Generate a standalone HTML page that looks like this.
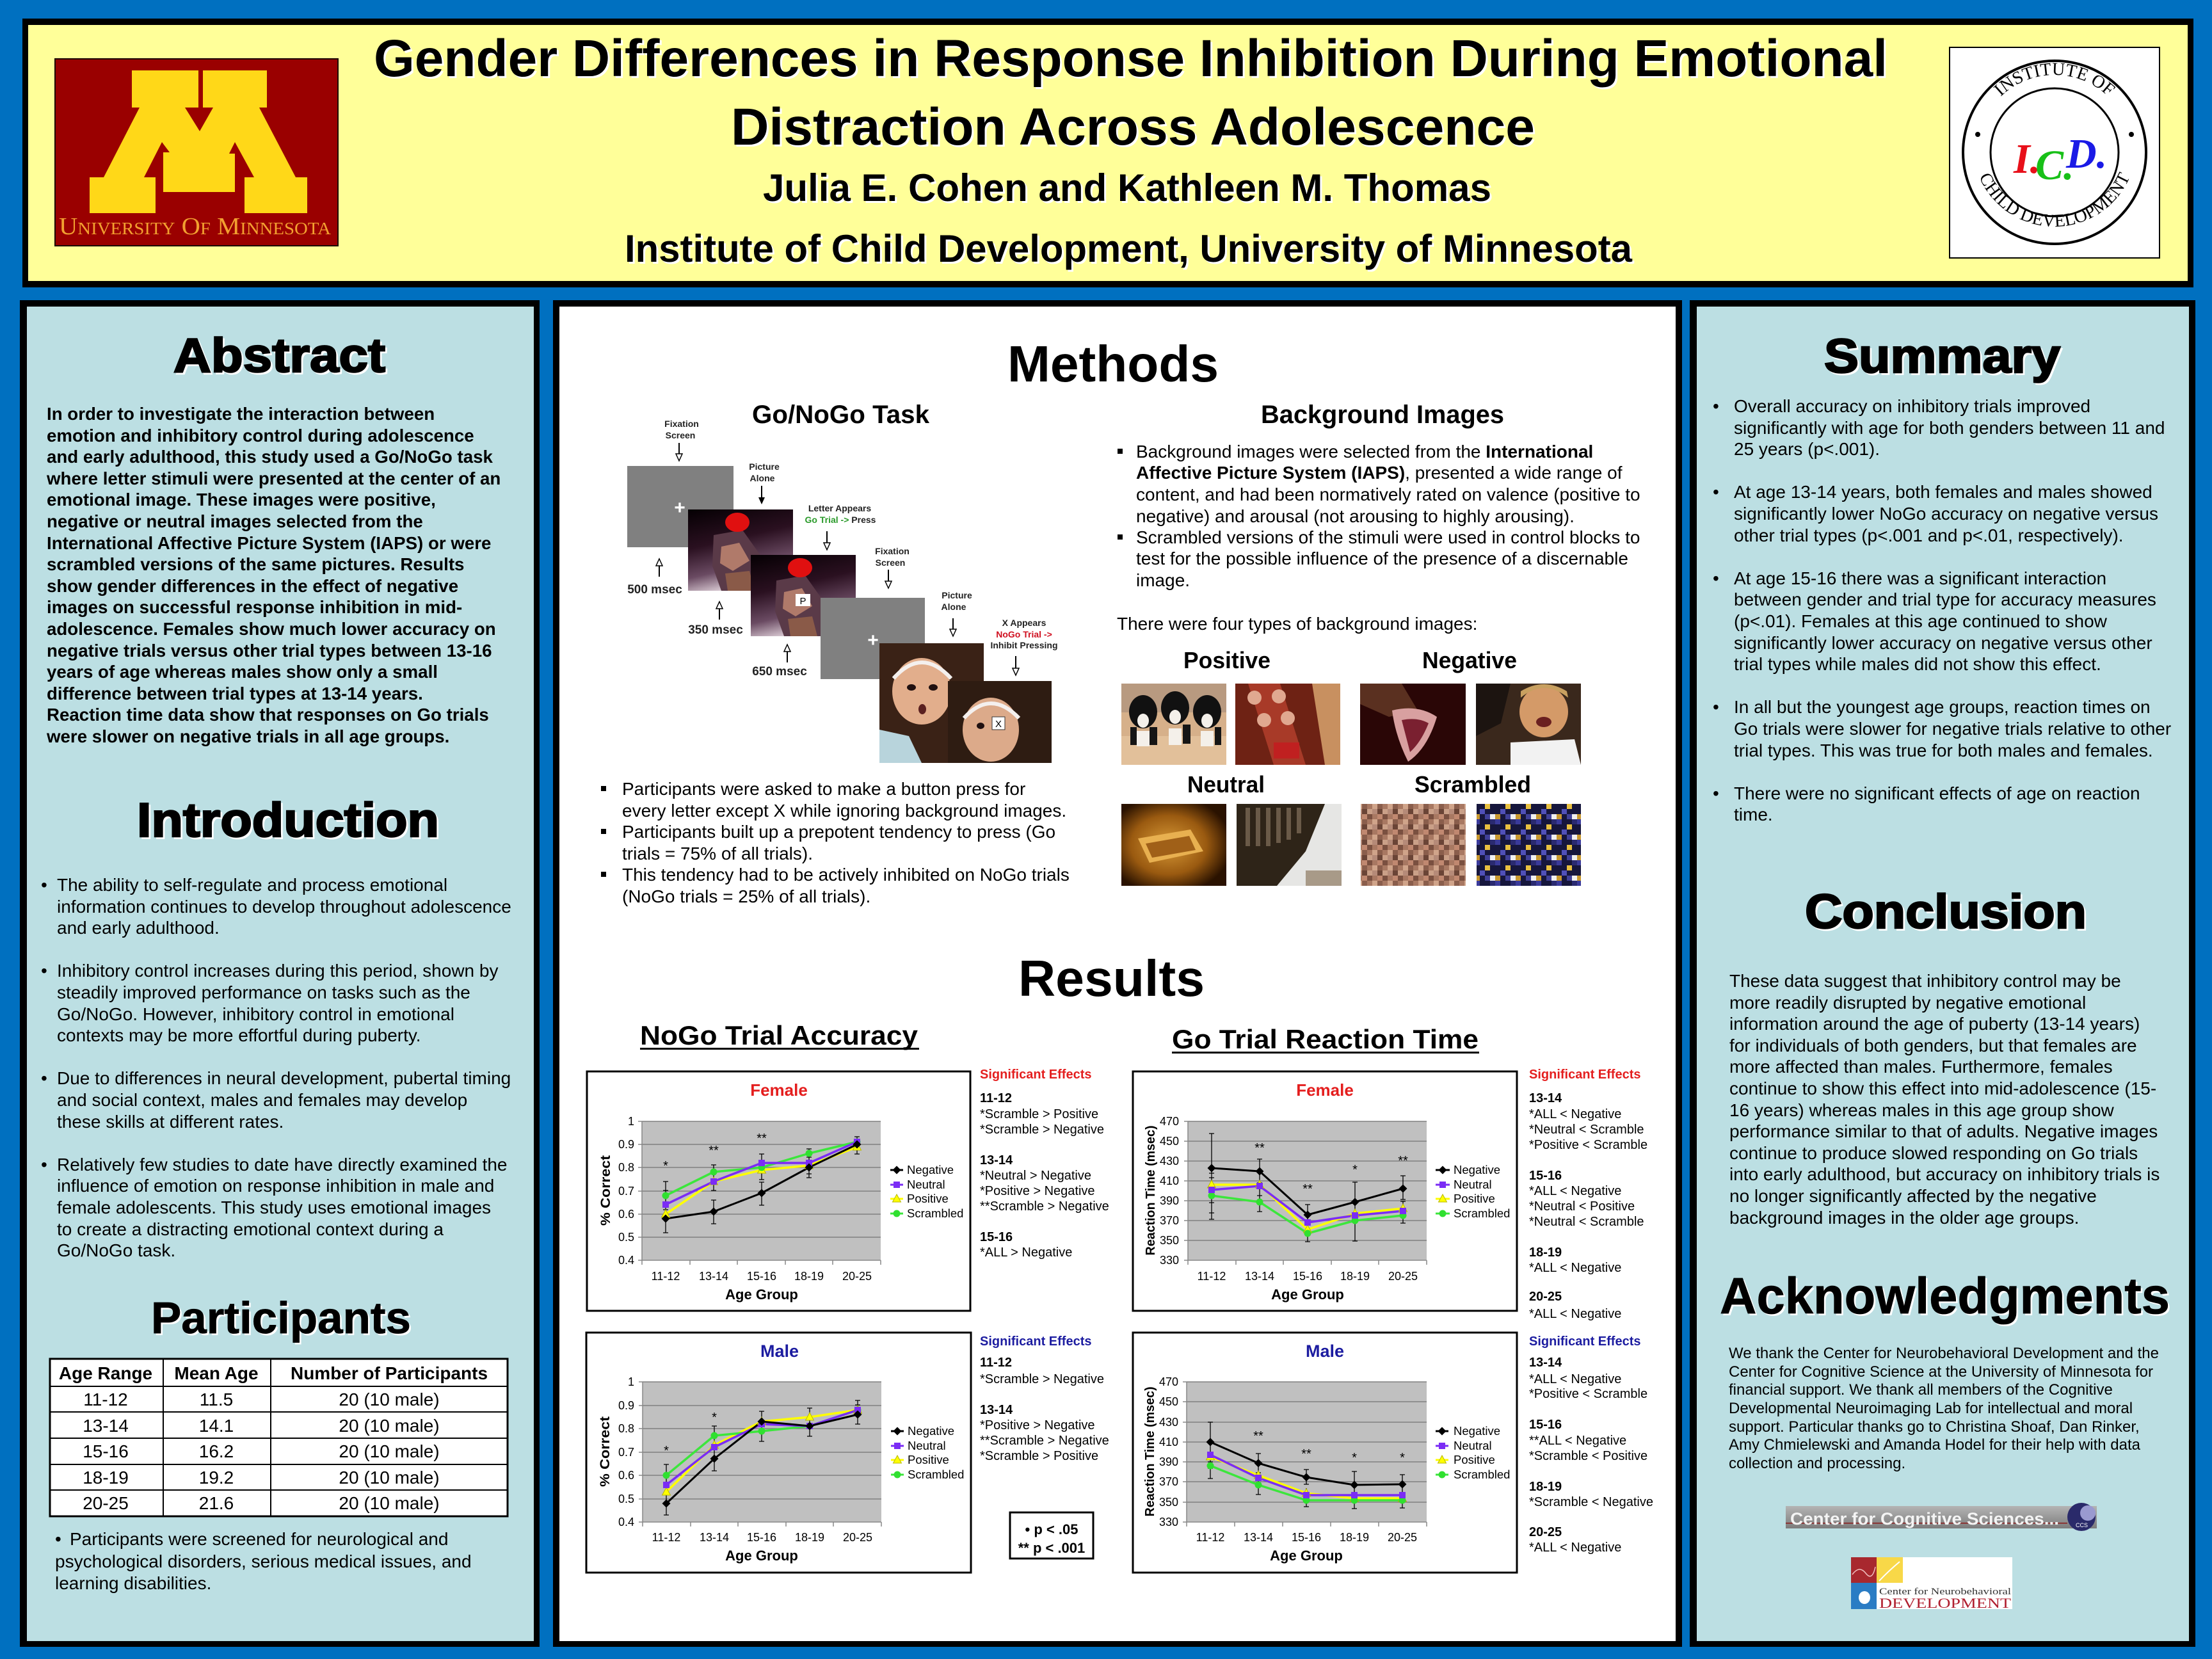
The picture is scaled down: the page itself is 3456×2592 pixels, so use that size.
<!DOCTYPE html>
<html><head><meta charset="utf-8"><title>Gender Differences in Response Inhibition Poster</title>
<style>
html,body{margin:0;padding:0;width:3456px;height:2592px;overflow:hidden;background:#0070c0}
svg{display:block}
text{font-family:"Liberation Sans",Arial,sans-serif}
.serif{font-family:"Liberation Serif","Times New Roman",serif}
</style></head>
<body>
<svg xmlns="http://www.w3.org/2000/svg" width="3456" height="2592" viewBox="0 0 3456 2592">
<defs>
 <linearGradient id="gGei" x1="0" y1="0" x2="0.3" y2="1">
  <stop offset="0" stop-color="#050003"/><stop offset="0.45" stop-color="#2a1020"/><stop offset="0.78" stop-color="#6a4a62"/><stop offset="1" stop-color="#d6c6d0"/>
 </linearGradient>
 <radialGradient id="gBasket" cx="0.45" cy="0.5" r="0.6">
  <stop offset="0" stop-color="#d89a38"/><stop offset="0.6" stop-color="#9a5a10"/><stop offset="1" stop-color="#2a1200"/>
 </radialGradient>
 <linearGradient id="gCcs" x1="0" y1="0" x2="0" y2="1">
  <stop offset="0" stop-color="#b4b4b4"/><stop offset="1" stop-color="#7c7c7c"/>
 </linearGradient>
 <pattern id="mos1" width="24" height="24" patternUnits="userSpaceOnUse">
  <rect width="24" height="24" fill="#a87862"/><rect width="8" height="8" fill="#7a5040"/><rect x="8" y="8" width="8" height="8" fill="#d0a48a"/><rect x="16" y="0" width="8" height="8" fill="#c08870"/><rect x="0" y="16" width="8" height="8" fill="#caa088"/><rect x="16" y="16" width="8" height="8" fill="#6a4436"/><rect x="8" y="16" width="8" height="8" fill="#b58a78"/><rect x="16" y="8" width="8" height="8" fill="#8a5e4c"/>
 </pattern>
 <pattern id="mos2" width="32" height="32" patternUnits="userSpaceOnUse">
  <rect width="32" height="32" fill="#16163c"/><rect x="0" y="0" width="8" height="8" fill="#3a3a9a"/><rect x="16" y="8" width="8" height="8" fill="#e8c040"/><rect x="8" y="16" width="8" height="8" fill="#5050b8"/><rect x="24" y="24" width="8" height="8" fill="#f0f0f0"/><rect x="24" y="0" width="8" height="8" fill="#2a2a70"/><rect x="0" y="24" width="8" height="8" fill="#c89830"/><rect x="16" y="24" width="8" height="8" fill="#404098"/>
 </pattern>
 <path id="dia" d="M0,-6.5L6.5,0L0,6.5L-6.5,0Z" fill="#000"/>
 <rect id="sq" x="-5" y="-5" width="10" height="10" fill="#7b2cf5"/>
 <path id="tri" d="M0,-7L6.5,5L-6.5,5Z" fill="#ffff00" stroke="#b8b800" stroke-width="1"/>
 <circle id="cir" r="5.5" fill="#30e030"/>
 <g id="gei">
  <rect width="164" height="127" fill="url(#gGei)"/>
  <path d="M40,40 L85,32 L112,70 L110,127 L52,127 L38,88Z" fill="#5a3a48"/>
  <path d="M52,58 L80,52 L96,80 L70,96 L50,84Z" fill="#b07a6a"/>
  <path d="M58,100 L96,96 L104,127 L62,127Z" fill="#8a5a48"/>
  <ellipse cx="77" cy="20" rx="19" ry="15" fill="#e01010"/>
 </g>
</defs>

<!-- background -->
<rect width="3456" height="2592" fill="#0070c0"/>

<!-- HEADER -->
<rect x="35" y="29" width="3392" height="420" fill="#000"/>
<rect x="44" y="39" width="3374" height="400" fill="#ffff99"/>

<!-- UMN logo -->
<rect x="85" y="91" width="444" height="294" fill="#1a0000"/>
<rect x="87" y="93" width="440" height="290" fill="#9a0000"/>
<path d="M206,110 L310,110 L310,168 L289,168 L312,205 L333,168 L317,168 L317,110 L417,110 L417,168 L405,168 L462,277 L480,277 L480,333 L382,333 L382,277 L397,277 L367,222 L358,240 L367,240 L367,300 L255,300 L255,238 L265,238 L253,222 L225,277 L243,277 L243,333 L140,333 L140,277 L162,277 L218,168 L206,168Z" fill="#ffd818"/>
<text x="92" y="366" font-size="38" class="serif" font-variant="small-caps" fill="#f2a030" textLength="425" lengthAdjust="spacingAndGlyphs">University Of Minnesota</text>

<!-- Title -->
<g font-weight="bold">
<text x="587" y="122" font-size="82" fill="#fff" textLength="2365" lengthAdjust="spacingAndGlyphs">Gender Differences in Response Inhibition During Emotional</text>
<text x="584" y="119" font-size="82" fill="#000" textLength="2365" lengthAdjust="spacingAndGlyphs">Gender Differences in Response Inhibition During Emotional</text>
<text x="1145" y="229" font-size="82" fill="#fff" textLength="1256" lengthAdjust="spacingAndGlyphs">Distraction Across Adolescence</text>
<text x="1142" y="226" font-size="82" fill="#000" textLength="1256" lengthAdjust="spacingAndGlyphs">Distraction Across Adolescence</text>
<text x="1195" y="317" font-size="60" fill="#fff" textLength="1138" lengthAdjust="spacingAndGlyphs">Julia E. Cohen and Kathleen M. Thomas</text>
<text x="1192" y="314" font-size="60" fill="#000" textLength="1138" lengthAdjust="spacingAndGlyphs">Julia E. Cohen and Kathleen M. Thomas</text>
<text x="979" y="412" font-size="60" fill="#fff" textLength="1574" lengthAdjust="spacingAndGlyphs">Institute of Child Development, University of Minnesota</text>
<text x="976" y="409" font-size="60" fill="#000" textLength="1574" lengthAdjust="spacingAndGlyphs">Institute of Child Development, University of Minnesota</text>
</g>

<!-- ICD logo -->
<rect x="3046" y="74" width="328" height="329" fill="#fff" stroke="#000" stroke-width="2"/>
<circle cx="3210" cy="238" r="143" fill="none" stroke="#000" stroke-width="4"/>
<circle cx="3210" cy="238" r="100" fill="none" stroke="#000" stroke-width="3"/>
<path id="arcTop" d="M3089,238 A121,121 0 0 1 3331,238" fill="none"/>
<path id="arcBot" d="M3082,226 A128,128 0 0 0 3338,226" fill="none"/>
<text class="serif" font-size="28" fill="#000"><textPath href="#arcTop" startOffset="50%" text-anchor="middle">INSTITUTE OF</textPath></text>
<text class="serif" font-size="28" fill="#000"><textPath href="#arcBot" startOffset="50%" text-anchor="middle">CHILD DEVELOPMENT</textPath></text>
<circle cx="3090" cy="210" r="4" fill="#000"/><circle cx="3330" cy="210" r="4" fill="#000"/>
<g font-style="italic" font-weight="bold" font-size="66">
<text x="3146" y="270" fill="#e8101a" class="serif">I.</text>
<text x="3180" y="280" fill="#18c018" class="serif">C.</text>
<text x="3228" y="262" fill="#1a1ae6" class="serif">D.</text>
</g>

<!-- PANELS -->
<rect x="31" y="469" width="812" height="2104" fill="#000"/>
<rect x="42" y="479" width="792" height="2085" fill="#bcdfe3"/>
<rect x="864" y="469" width="1764" height="2104" fill="#000"/>
<rect x="874" y="479" width="1744" height="2085" fill="#fff"/>
<rect x="2640" y="469" width="790" height="2104" fill="#000"/>
<rect x="2651" y="479" width="769" height="2085" fill="#bcdfe3"/>

<!-- LEFT PANEL -->
<g font-weight="bold" font-size="75">
<text x="274" y="584" fill="#fff" stroke="#fff" stroke-width="2" textLength="331" lengthAdjust="spacingAndGlyphs">Abstract</text>
<text x="271" y="581" fill="#000" stroke="#000" stroke-width="2.5" textLength="331" lengthAdjust="spacingAndGlyphs">Abstract</text>
<text x="217" y="1310" fill="#fff" stroke="#fff" stroke-width="2" textLength="472" lengthAdjust="spacingAndGlyphs">Introduction</text>
<text x="214" y="1307" fill="#000" stroke="#000" stroke-width="2.5" textLength="472" lengthAdjust="spacingAndGlyphs">Introduction</text>
</g>
<g font-weight="bold" font-size="70">
<text x="239" y="2086" fill="#fff" textLength="406" lengthAdjust="spacingAndGlyphs">Participants</text>
<text x="236" y="2083" fill="#000" stroke="#000" stroke-width="0.8" textLength="406" lengthAdjust="spacingAndGlyphs">Participants</text>
</g>

<g font-weight="bold" font-size="27.7" fill="#000">
<text x="73" y="656">In order to investigate the interaction between</text>
<text x="73" y="690">emotion and inhibitory control during adolescence</text>
<text x="73" y="723">and early adulthood, this study used a Go/NoGo task</text>
<text x="73" y="757">where letter stimuli were presented at the center of an</text>
<text x="73" y="790">emotional image. These images were positive,</text>
<text x="73" y="824">negative or neutral images selected from the</text>
<text x="73" y="858">International Affective Picture System (IAPS) or were</text>
<text x="73" y="891">scrambled versions of the same pictures. Results</text>
<text x="73" y="925">show gender differences in the effect of negative</text>
<text x="73" y="958">images on successful response inhibition in mid-</text>
<text x="73" y="992">adolescence. Females show much lower accuracy on</text>
<text x="73" y="1026">negative trials versus other trial types between 13-16</text>
<text x="73" y="1059">years of age whereas males show only a small</text>
<text x="73" y="1093">difference between trial types at 13-14 years.</text>
<text x="73" y="1126">Reaction time data show that responses on Go trials</text>
<text x="73" y="1160">were slower on negative trials in all age groups.</text>
</g>

<g font-size="28" fill="#000">
<text x="64" y="1392">•</text>
<text x="89" y="1392">The ability to self-regulate and process emotional</text>
<text x="89" y="1426">information continues to develop throughout adolescence</text>
<text x="89" y="1459">and early adulthood.</text>
<text x="64" y="1526">•</text>
<text x="89" y="1526">Inhibitory control increases during this period, shown by</text>
<text x="89" y="1560">steadily improved performance on tasks such as the</text>
<text x="89" y="1594">Go/NoGo.  However, inhibitory control in emotional</text>
<text x="89" y="1627">contexts may be more effortful during puberty.</text>
<text x="64" y="1694">•</text>
<text x="89" y="1694">Due to differences in neural development, pubertal timing</text>
<text x="89" y="1728">and social context, males and females may develop</text>
<text x="89" y="1762">these skills at different rates.</text>
<text x="64" y="1829">•</text>
<text x="89" y="1829">Relatively few studies to date have directly examined the</text>
<text x="89" y="1862">influence of emotion on response inhibition in male and</text>
<text x="89" y="1896">female adolescents.  This study uses emotional images</text>
<text x="89" y="1930">to create a distracting emotional context during a</text>
<text x="89" y="1963">Go/NoGo task.</text>
</g>

<!-- table -->
<rect x="78" y="2123" width="715" height="246" fill="#fff" stroke="#000" stroke-width="3"/>
<path d="M78,2166H793M78,2206H793M78,2247H793M78,2288H793M78,2328H793M255,2123V2369M423,2123V2369" stroke="#000" stroke-width="2" fill="none"/>
<g font-size="28" text-anchor="middle" fill="#000">
<g font-weight="bold"><text x="165" y="2155">Age Range</text><text x="338" y="2155">Mean Age</text><text x="608" y="2155">Number of Participants</text></g>
<text x="165" y="2196">11-12</text><text x="338" y="2196">11.5</text><text x="608" y="2196">20 (10 male)</text>
<text x="165" y="2237">13-14</text><text x="338" y="2237">14.1</text><text x="608" y="2237">20 (10 male)</text>
<text x="165" y="2277">15-16</text><text x="338" y="2277">16.2</text><text x="608" y="2277">20 (10 male)</text>
<text x="165" y="2318">18-19</text><text x="338" y="2318">19.2</text><text x="608" y="2318">20 (10 male)</text>
<text x="165" y="2358">20-25</text><text x="338" y="2358">21.6</text><text x="608" y="2358">20 (10 male)</text>
</g>
<g font-size="28" fill="#000">
<text x="86" y="2414">•</text>
<text x="109" y="2414">Participants were screened for neurological and</text>
<text x="86" y="2449">psychological disorders, serious medical issues, and</text>
<text x="86" y="2483">learning disabilities.</text>
</g>

<!-- MIDDLE PANEL -->
<g font-weight="bold" fill="#000">
<text x="1574" y="596" font-size="80" textLength="330" lengthAdjust="spacingAndGlyphs">Methods</text>
<text x="1591" y="1556" font-size="80" textLength="291" lengthAdjust="spacingAndGlyphs">Results</text>
<text x="1175" y="661" font-size="40" textLength="277" lengthAdjust="spacingAndGlyphs">Go/NoGo Task</text>
<text x="1970" y="661" font-size="40" textLength="380" lengthAdjust="spacingAndGlyphs">Background Images</text>
<text x="1849" y="1044" font-size="36" textLength="136" lengthAdjust="spacingAndGlyphs">Positive</text>
<text x="2222" y="1044" font-size="36" textLength="148" lengthAdjust="spacingAndGlyphs">Negative</text>
<text x="1855" y="1238" font-size="36" textLength="121" lengthAdjust="spacingAndGlyphs">Neutral</text>
<text x="2210" y="1238" font-size="36" textLength="182" lengthAdjust="spacingAndGlyphs">Scrambled</text>
</g>

<!-- Go/NoGo diagram -->
<rect x="980" y="728" width="166" height="127" fill="#808080"/>
<text x="1062" y="803" font-size="30" fill="#fff" text-anchor="middle" font-weight="bold">+</text>
<use href="#gei" x="1075" y="796"/>
<use href="#gei" x="1173" y="867"/>
<rect x="1243" y="928" width="23" height="19" fill="#fff"/>
<text x="1254.5" y="944" font-size="15" text-anchor="middle" fill="#000">P</text>
<rect x="1282" y="934" width="163" height="127" fill="#808080"/>
<text x="1364" y="1010" font-size="30" fill="#fff" text-anchor="middle" font-weight="bold">+</text>
<!-- baby 1 -->
<rect x="1374" y="1005" width="163" height="187" fill="#3a2216"/>
<ellipse cx="1440" cy="1080" rx="46" ry="52" fill="#e2ae8c"/>
<path d="M1396,1060 Q1440,1010 1486,1060" stroke="#f4f0ee" stroke-width="6" fill="none"/>
<ellipse cx="1424" cy="1074" rx="7" ry="5" fill="#201010"/><ellipse cx="1458" cy="1074" rx="7" ry="5" fill="#201010"/>
<ellipse cx="1441" cy="1108" rx="6" ry="8" fill="#5a2020"/>
<path d="M1374,1140 L1420,1150 L1440,1192 L1374,1192Z" fill="#b8d4dc"/>
<!-- baby 2 -->
<rect x="1481" y="1064" width="162" height="128" fill="#2e1c12"/>
<ellipse cx="1548" cy="1140" rx="44" ry="50" fill="#dcaa8a"/>
<path d="M1506,1122 Q1548,1076 1592,1122" stroke="#f4f0ee" stroke-width="6" fill="none"/>
<ellipse cx="1532" cy="1134" rx="6" ry="5" fill="#201010"/><ellipse cx="1564" cy="1134" rx="6" ry="5" fill="#201010"/>
<rect x="1550" y="1120" width="20" height="20" fill="#fff" stroke="#333" stroke-width="1"/>
<text x="1560" y="1136" font-size="15" text-anchor="middle" fill="#000">X</text>

<g stroke="#000" stroke-width="2" fill="none">
 <path d="M1061,692V710M1292,830V849M1388,890V909M1489,966V984M1587,1025V1045M1190,759V778"/>
 <path d="M1030,883V901M1124,950V968M1230,1017V1035"/>
</g>
<g stroke="#000" stroke-width="1.5" fill="#fff">
 <path d="M1056,709L1066,709L1061,720Z"/><path d="M1287,848L1297,848L1292,859Z"/><path d="M1383,908L1393,908L1388,919Z"/><path d="M1484,983L1494,983L1489,994Z"/><path d="M1582,1044L1592,1044L1587,1055Z"/>
 <path d="M1025,884L1035,884L1030,873Z"/><path d="M1119,951L1129,951L1124,940Z"/><path d="M1225,1018L1235,1018L1230,1007Z"/>
</g>
<path d="M1185,777L1195,777L1190,788Z" fill="#000"/>
<g font-size="14" font-weight="bold" fill="#222" text-anchor="middle">
<text x="1065" y="667">Fixation</text><text x="1063" y="685">Screen</text>
<text x="1194" y="734">Picture</text><text x="1191" y="752">Alone</text>
<text x="1312" y="799">Letter Appears</text>
<text x="1313" y="817"><tspan fill="#2a9a2a">Go Trial -&gt;</tspan> Press</text>
<text x="1394" y="866">Fixation</text><text x="1391" y="884">Screen</text>
<text x="1495" y="935">Picture</text><text x="1490" y="953">Alone</text>
<text x="1600" y="978">X Appears</text>
<text x="1600" y="996" fill="#d01020">NoGo Trial -&gt;</text>
<text x="1600" y="1013">Inhibit Pressing</text>
</g>
<g font-size="19" font-weight="bold" fill="#222" text-anchor="middle">
<text x="1023" y="927">500 msec</text><text x="1118" y="990">350 msec</text><text x="1218" y="1055">650 msec</text>
</g>

<!-- methods bullets -->
<g fill="#000">
<rect x="939" y="1228" width="8" height="8"/><rect x="939" y="1295" width="8" height="8"/><rect x="939" y="1362" width="8" height="8"/>
</g>
<g font-size="28" fill="#000">
<text x="972" y="1242">Participants were asked to make a button press for</text>
<text x="972" y="1276">every letter except X while ignoring background images.</text>
<text x="972" y="1309">Participants built up a prepotent tendency to press (Go</text>
<text x="972" y="1343">trials = 75% of all trials).</text>
<text x="972" y="1376">This tendency had to be actively inhibited on NoGo trials</text>
<text x="972" y="1410">(NoGo trials = 25% of all trials).</text>
</g>

<!-- background images text -->
<g fill="#000"><rect x="1746" y="701" width="8" height="8"/><rect x="1746" y="835" width="8" height="8"/></g>
<g font-size="28" fill="#000">
<text x="1775" y="715">Background images were selected from the <tspan font-weight="bold">International</tspan></text>
<text x="1775" y="748"><tspan font-weight="bold">Affective Picture System (IAPS)</tspan>, presented a wide range of</text>
<text x="1775" y="782">content, and had been normatively rated on valence (positive to</text>
<text x="1775" y="816">negative) and arousal (not arousing to highly arousing).</text>
<text x="1775" y="849">Scrambled versions of the stimuli were used in control blocks to</text>
<text x="1775" y="882">test for the possible influence of the presence of a discernable</text>
<text x="1775" y="916">image.</text>
<text x="1745" y="984">There were four types of background images:</text>
</g>

<!-- background photos -->
<rect x="1752" y="1068" width="164" height="127" fill="#d6b08a"/>
<rect x="1752" y="1068" width="164" height="45" fill="#b89a80"/>
<rect x="1752" y="1150" width="164" height="45" fill="#e2c09a"/>
<g fill="#111"><ellipse cx="1786" cy="1112" rx="22" ry="26"/><ellipse cx="1836" cy="1106" rx="22" ry="26"/><ellipse cx="1886" cy="1112" rx="22" ry="26"/></g>
<g fill="#f4f0ea"><ellipse cx="1786" cy="1126" rx="9" ry="11"/><ellipse cx="1836" cy="1120" rx="9" ry="11"/><ellipse cx="1886" cy="1126" rx="9" ry="11"/>
<rect x="1776" y="1142" width="20" height="24"/><rect x="1826" y="1138" width="20" height="26"/><rect x="1876" y="1142" width="20" height="24"/></g>
<g fill="#151515"><rect x="1766" y="1136" width="10" height="28"/><rect x="1796" y="1136" width="12" height="28"/><rect x="1848" y="1132" width="12" height="30"/><rect x="1898" y="1136" width="10" height="28"/></g>
<rect x="1930" y="1068" width="164" height="127" fill="#6e2214"/>
<path d="M2050,1068 L2094,1068 L2094,1195 L2070,1195Z" fill="#c89060"/>
<path d="M1950,1068 L2000,1068 L2040,1195 L1990,1195Z" fill="#a83a28"/>
<g fill="#e0a890"><circle cx="1960" cy="1090" r="11"/><circle cx="1998" cy="1088" r="11"/><circle cx="1975" cy="1125" r="11"/><circle cx="2012" cy="1122" r="11"/></g>
<rect x="1990" y="1160" width="40" height="25" fill="#c02020"/>
<rect x="2125" y="1068" width="165" height="127" fill="#2a0606"/>
<path d="M2125,1068 L2190,1068 L2215,1110 L2170,1120 L2125,1100Z" fill="#5a3020"/>
<path d="M2175,1110 Q2215,1100 2245,1120 Q2230,1170 2200,1190 Q2180,1150 2175,1110Z" fill="#d8a0a0"/>
<path d="M2190,1125 Q2215,1120 2232,1130 Q2220,1160 2203,1175Z" fill="#7a2030"/>
<rect x="2306" y="1068" width="164" height="127" fill="#3a281c"/>
<path d="M2306,1068 L2360,1068 L2345,1130 L2306,1150Z" fill="#1c1410"/>
<ellipse cx="2412" cy="1112" rx="38" ry="40" fill="#d49a68"/>
<path d="M2376,1090 Q2412,1060 2450,1090 L2448,1080 Q2412,1058 2376,1080Z" fill="#c8a060"/>
<path d="M2360,1160 L2460,1155 L2470,1195 L2360,1195Z" fill="#f2f2f2"/>
<ellipse cx="2412" cy="1128" rx="12" ry="8" fill="#6a2020"/>
<rect x="1752" y="1256" width="164" height="128" fill="url(#gBasket)"/>
<path d="M1778,1310 L1860,1296 L1880,1330 L1796,1348Z" fill="#e8b050"/>
<path d="M1790,1318 L1858,1306 L1868,1328 L1800,1340Z" fill="#a06018"/>
<rect x="1932" y="1256" width="164" height="128" fill="#e6e6e4"/>
<path d="M1932,1256 L2070,1256 L2040,1330 L1995,1384 L1932,1384Z" fill="#2e2418"/>
<g fill="#6a5a48"><rect x="1946" y="1262" width="7" height="60"/><rect x="1962" y="1262" width="7" height="60"/><rect x="1978" y="1262" width="7" height="60"/><rect x="1994" y="1262" width="7" height="55"/><rect x="2010" y="1262" width="7" height="50"/><rect x="2026" y="1262" width="7" height="40"/></g>
<rect x="2040" y="1360" width="56" height="24" fill="#a89a88"/>
<rect x="2126" y="1256" width="164" height="128" fill="url(#mos1)"/>
<rect x="2307" y="1256" width="163" height="128" fill="url(#mos2)"/>

<!-- RESULTS headings -->
<g font-weight="bold" fill="#000">
<text x="1000" y="1632" font-size="42" textLength="434" lengthAdjust="spacingAndGlyphs">NoGo Trial Accuracy</text>
<rect x="1000" y="1637" width="436" height="3"/>
<text x="1831" y="1638" font-size="42" textLength="479" lengthAdjust="spacingAndGlyphs">Go Trial Reaction Time</text>
<rect x="1831" y="1643" width="480" height="3"/>
</g>

<!-- ========== FEMALE NOGO ========== -->
<rect x="917" y="1674" width="599" height="374" fill="#fff" stroke="#000" stroke-width="3"/>
<text x="1217" y="1712" font-size="26" font-weight="bold" fill="#e41e1e" text-anchor="middle">Female</text>
<rect x="1003" y="1752" width="373" height="217" fill="#c0c0c0"/>
<path d="M1003,1752H1376M1003,1788H1376M1003,1824H1376M1003,1861H1376M1003,1897H1376M1003,1933H1376" stroke="#808080" stroke-width="1.5" fill="none"/>
<path d="M1003,1752V1969H1376M997,1752H1003M997,1788H1003M997,1824H1003M997,1861H1003M997,1897H1003M997,1933H1003M997,1969H1003M1003,1969v7M1078,1969v7M1152,1969v7M1227,1969v7M1301,1969v7M1376,1969v7" stroke="#888" stroke-width="1.5" fill="none"/>
<g font-size="18" text-anchor="end" fill="#000">
<text x="991" y="1758">1</text><text x="991" y="1794">0.9</text><text x="991" y="1830">0.8</text><text x="991" y="1867">0.7</text><text x="991" y="1903">0.6</text><text x="991" y="1939">0.5</text><text x="991" y="1975">0.4</text>
</g>
<g font-size="18" text-anchor="middle" fill="#000">
<text x="1040" y="2000">11-12</text><text x="1115" y="2000">13-14</text><text x="1190" y="2000">15-16</text><text x="1264" y="2000">18-19</text><text x="1339" y="2000">20-25</text>
</g>
<text x="1190" y="2030" font-size="22" font-weight="bold" text-anchor="middle">Age Group</text>
<text transform="translate(953,1860) rotate(-90)" font-size="21" font-weight="bold" text-anchor="middle" textLength="110" lengthAdjust="spacingAndGlyphs">% Correct</text>
<path d="M1040,1882V1926M1036,1882H1044M1036,1926H1044M1040,1860V1904M1036,1860H1044M1036,1904H1044M1040,1870V1924M1040,1846V1890M1036,1846H1044M1036,1890H1044
M1115,1875V1912M1111,1875H1119M1111,1912H1119M1115,1832V1860M1111,1832H1119M1111,1860H1119M1115,1820V1842M1111,1820H1119M1111,1842H1119
M1190,1847V1883M1186,1847H1194M1186,1883H1194M1190,1803V1843M1186,1803H1194M1186,1843H1194M1190,1810V1838
M1264,1808V1840M1260,1808H1268M1260,1840H1268M1264,1795V1834M1260,1795H1268M1260,1834H1268
M1339,1776V1803M1335,1776H1343M1335,1803H1343" stroke="#000" stroke-width="1.3" fill="none"/>
<g fill="none" stroke-width="3.5" stroke-linejoin="round">
<polyline points="1040,1897 1115,1846 1190,1828 1264,1821 1339,1792" stroke="#ffff00"/>
<polyline points="1040,1868 1115,1831 1190,1824 1264,1802 1339,1784" stroke="#3ce63c"/>
<polyline points="1040,1882 1115,1846 1190,1817 1264,1817 1339,1784" stroke="#7b2cf5"/>
<polyline points="1040,1904 1115,1893 1190,1864 1264,1824 1339,1788" stroke="#000" stroke-width="3"/>
</g>
<use href="#tri" x="1040" y="1897"/><use href="#tri" x="1115" y="1846"/><use href="#tri" x="1190" y="1828"/><use href="#tri" x="1264" y="1821"/><use href="#tri" x="1339" y="1792"/>
<use href="#cir" x="1040" y="1868"/><use href="#cir" x="1115" y="1831"/><use href="#cir" x="1190" y="1824"/><use href="#cir" x="1264" y="1802"/><use href="#cir" x="1339" y="1784"/>
<use href="#sq" x="1040" y="1882"/><use href="#sq" x="1115" y="1846"/><use href="#sq" x="1190" y="1817"/><use href="#sq" x="1264" y="1817"/><use href="#sq" x="1339" y="1784"/>
<use href="#dia" x="1040" y="1904"/><use href="#dia" x="1115" y="1893"/><use href="#dia" x="1190" y="1864"/><use href="#dia" x="1264" y="1824"/><use href="#dia" x="1339" y="1788"/>
<g font-size="20" text-anchor="middle"><text x="1040" y="1828">*</text><text x="1115" y="1804">**</text><text x="1190" y="1785">**</text></g>
<g stroke-width="3"><path d="M1391,1828H1411" stroke="#000"/><path d="M1391,1851H1411" stroke="#7b2cf5"/><path d="M1391,1873H1411" stroke="#ffff00"/><path d="M1391,1896H1411" stroke="#3ce63c"/></g>
<use href="#dia" x="1401" y="1828"/><use href="#sq" x="1401" y="1851"/><use href="#tri" x="1401" y="1873"/><use href="#cir" x="1401" y="1896"/>
<g font-size="18.5"><text x="1417" y="1834">Negative</text><text x="1417" y="1857">Neutral</text><text x="1417" y="1879">Positive</text><text x="1417" y="1902">Scrambled</text></g>

<g font-size="20" fill="#000">
<text x="1531" y="1685" font-weight="bold" fill="#e41e1e">Significant Effects</text>
<text x="1531" y="1722" font-weight="bold">11-12</text>
<text x="1531" y="1747">*Scramble &gt; Positive</text>
<text x="1531" y="1771">*Scramble &gt; Negative</text>
<text x="1531" y="1819" font-weight="bold">13-14</text>
<text x="1531" y="1843">*Neutral &gt; Negative</text>
<text x="1531" y="1867">*Positive &gt; Negative</text>
<text x="1531" y="1891">**Scramble &gt; Negative</text>
<text x="1531" y="1939" font-weight="bold">15-16</text>
<text x="1531" y="1963">*ALL &gt; Negative</text>
</g>

<!-- ========== FEMALE RT ========== -->
<rect x="1770" y="1674" width="600" height="374" fill="#fff" stroke="#000" stroke-width="3"/>
<text x="2070" y="1712" font-size="26" font-weight="bold" fill="#e41e1e" text-anchor="middle">Female</text>
<rect x="1856" y="1752" width="373" height="217" fill="#c0c0c0"/>
<path d="M1856,1752H2229M1856,1783H2229M1856,1814H2229M1856,1845H2229M1856,1876H2229M1856,1907H2229M1856,1938H2229" stroke="#808080" stroke-width="1.5" fill="none"/>
<path d="M1856,1752V1969H2229M1850,1752H1856M1850,1783H1856M1850,1814H1856M1850,1845H1856M1850,1876H1856M1850,1907H1856M1850,1938H1856M1850,1969H1856M1856,1969v7M1931,1969v7M2005,1969v7M2080,1969v7M2154,1969v7M2229,1969v7" stroke="#888" stroke-width="1.5" fill="none"/>
<g font-size="18" text-anchor="end">
<text x="1842" y="1758">470</text><text x="1842" y="1789">450</text><text x="1842" y="1820">430</text><text x="1842" y="1851">410</text><text x="1842" y="1882">390</text><text x="1842" y="1913">370</text><text x="1842" y="1944">350</text><text x="1842" y="1975">330</text>
</g>
<g font-size="18" text-anchor="middle">
<text x="1893" y="2000">11-12</text><text x="1968" y="2000">13-14</text><text x="2043" y="2000">15-16</text><text x="2117" y="2000">18-19</text><text x="2192" y="2000">20-25</text>
</g>
<text x="2043" y="2030" font-size="22" font-weight="bold" text-anchor="middle">Age Group</text>
<text transform="translate(1804,1860) rotate(-90)" font-size="20" font-weight="bold" text-anchor="middle" textLength="203" lengthAdjust="spacingAndGlyphs">Reaction Time (msec)</text>
<path d="M1893,1771V1879M1889,1771H1897M1889,1879H1897M1893,1833V1895M1889,1833H1897M1889,1895H1897M1893,1840V1905M1889,1840H1897M1889,1905H1897
M1968,1811V1848M1964,1811H1972M1964,1848H1972M1968,1838V1868M1964,1868H1972M1968,1863V1893M1964,1893H1972
M2043,1882V1913M2039,1882H2047M2039,1913H2047M2043,1898V1940M2039,1940H2047
M2117,1847V1907M2113,1847H2121M2113,1907H2121M2117,1877V1939M2113,1939H2121M2113,1880H2121
M2192,1837V1874M2188,1837H2196M2188,1874H2196M2192,1877V1911M2188,1911H2196M2188,1877H2196" stroke="#000" stroke-width="1.3" fill="none"/>
<g fill="none" stroke-width="3.5" stroke-linejoin="round">
<polyline points="1893,1851 1968,1851 2043,1921 2117,1896 2192,1888" stroke="#ffff00"/>
<polyline points="1893,1868 1968,1878 2043,1927 2117,1907 2192,1899" stroke="#3ce63c"/>
<polyline points="1893,1859 1968,1853 2043,1910 2117,1899 2192,1892" stroke="#7b2cf5"/>
<polyline points="1893,1825 1968,1830 2043,1898 2117,1878 2192,1857" stroke="#000" stroke-width="3"/>
</g>
<use href="#tri" x="1893" y="1851"/><use href="#tri" x="1968" y="1851"/><use href="#tri" x="2043" y="1921"/><use href="#tri" x="2117" y="1896"/><use href="#tri" x="2192" y="1888"/>
<use href="#cir" x="1893" y="1868"/><use href="#cir" x="1968" y="1878"/><use href="#cir" x="2043" y="1927"/><use href="#cir" x="2117" y="1907"/><use href="#cir" x="2192" y="1899"/>
<use href="#sq" x="1893" y="1859"/><use href="#sq" x="1968" y="1853"/><use href="#sq" x="2043" y="1910"/><use href="#sq" x="2117" y="1899"/><use href="#sq" x="2192" y="1892"/>
<use href="#dia" x="1893" y="1825"/><use href="#dia" x="1968" y="1830"/><use href="#dia" x="2043" y="1898"/><use href="#dia" x="2117" y="1878"/><use href="#dia" x="2192" y="1857"/>
<g font-size="20" text-anchor="middle"><text x="1968" y="1800">**</text><text x="2043" y="1864">**</text><text x="2117" y="1834">*</text><text x="2192" y="1820">**</text></g>
<g stroke-width="3"><path d="M2243,1828H2265" stroke="#000"/><path d="M2243,1851H2265" stroke="#7b2cf5"/><path d="M2243,1873H2265" stroke="#ffff00"/><path d="M2243,1896H2265" stroke="#3ce63c"/></g>
<use href="#dia" x="2254" y="1828"/><use href="#sq" x="2254" y="1851"/><use href="#tri" x="2254" y="1873"/><use href="#cir" x="2254" y="1896"/>
<g font-size="18.5"><text x="2271" y="1834">Negative</text><text x="2271" y="1857">Neutral</text><text x="2271" y="1879">Positive</text><text x="2271" y="1902">Scrambled</text></g>

<g font-size="20" fill="#000">
<text x="2389" y="1685" font-weight="bold" fill="#e41e1e">Significant Effects</text>
<text x="2389" y="1722" font-weight="bold">13-14</text>
<text x="2389" y="1747">*ALL &lt; Negative</text>
<text x="2389" y="1771">*Neutral &lt; Scramble</text>
<text x="2389" y="1795">*Positive &lt; Scramble</text>
<text x="2389" y="1843" font-weight="bold">15-16</text>
<text x="2389" y="1867">*ALL &lt; Negative</text>
<text x="2389" y="1891">*Neutral &lt; Positive</text>
<text x="2389" y="1915">*Neutral &lt; Scramble</text>
<text x="2389" y="1963" font-weight="bold">18-19</text>
<text x="2389" y="1987">*ALL &lt; Negative</text>
<text x="2389" y="2032" font-weight="bold">20-25</text>
<text x="2389" y="2059">*ALL &lt; Negative</text>
</g>

<!-- ========== MALE NOGO ========== -->
<rect x="916" y="2082" width="601" height="375" fill="#fff" stroke="#000" stroke-width="3"/>
<text x="1218" y="2120" font-size="27" font-weight="bold" fill="#1c1ca0" text-anchor="middle">Male</text>
<rect x="1004" y="2159" width="373" height="219" fill="#c0c0c0"/>
<path d="M1004,2159H1377M1004,2196H1377M1004,2232H1377M1004,2269H1377M1004,2305H1377M1004,2342H1377" stroke="#808080" stroke-width="1.5" fill="none"/>
<path d="M1004,2159V2378H1377M998,2159H1004M998,2196H1004M998,2232H1004M998,2269H1004M998,2305H1004M998,2342H1004M998,2378H1004M1004,2378v7M1079,2378v7M1153,2378v7M1228,2378v7M1302,2378v7M1377,2378v7" stroke="#888" stroke-width="1.5" fill="none"/>
<g font-size="18" text-anchor="end">
<text x="991" y="2165">1</text><text x="991" y="2202">0.9</text><text x="991" y="2238">0.8</text><text x="991" y="2275">0.7</text><text x="991" y="2311">0.6</text><text x="991" y="2348">0.5</text><text x="991" y="2384">0.4</text>
</g>
<g font-size="18" text-anchor="middle">
<text x="1041" y="2408">11-12</text><text x="1116" y="2408">13-14</text><text x="1190" y="2408">15-16</text><text x="1265" y="2408">18-19</text><text x="1340" y="2408">20-25</text>
</g>
<text x="1190" y="2438" font-size="22" font-weight="bold" text-anchor="middle">Age Group</text>
<text transform="translate(952,2268) rotate(-90)" font-size="21" font-weight="bold" text-anchor="middle" textLength="110" lengthAdjust="spacingAndGlyphs">% Correct</text>
<path d="M1041,2334V2367M1037,2367H1045M1041,2305V2335M1037,2305H1045M1041,2312V2348M1037,2348H1045M1041,2288V2322M1037,2288H1045
M1116,2260V2298M1112,2260H1120M1112,2298H1120M1116,2243V2279M1116,2240V2275M1116,2228V2258M1112,2228H1120
M1190,2205V2237M1186,2205H1194M1186,2237H1194M1190,2220V2252M1186,2252H1194
M1265,2200V2244M1261,2200H1269M1261,2244H1269M1261,2215H1269
M1340,2188V2225M1336,2188H1344M1336,2225H1344M1336,2195H1344" stroke="#000" stroke-width="1.3" fill="none"/>
<g fill="none" stroke-width="3.5" stroke-linejoin="round">
<polyline points="1041,2331 1116,2258 1190,2221 1265,2214 1340,2203" stroke="#ffff00"/>
<polyline points="1041,2305 1116,2243 1190,2236 1265,2228 1340,2203" stroke="#3ce63c"/>
<polyline points="1041,2320 1116,2261 1190,2225 1265,2228 1340,2203" stroke="#7b2cf5"/>
<polyline points="1041,2349 1116,2279 1190,2221 1265,2228 1340,2210" stroke="#000" stroke-width="3"/>
</g>
<use href="#tri" x="1041" y="2331"/><use href="#tri" x="1116" y="2258"/><use href="#tri" x="1190" y="2221"/><use href="#tri" x="1265" y="2214"/><use href="#tri" x="1340" y="2203"/>
<use href="#cir" x="1041" y="2305"/><use href="#cir" x="1116" y="2243"/><use href="#cir" x="1190" y="2236"/><use href="#cir" x="1265" y="2228"/><use href="#cir" x="1340" y="2203"/>
<use href="#sq" x="1041" y="2320"/><use href="#sq" x="1116" y="2261"/><use href="#sq" x="1190" y="2225"/><use href="#sq" x="1265" y="2228"/><use href="#sq" x="1340" y="2203"/>
<use href="#dia" x="1041" y="2349"/><use href="#dia" x="1116" y="2279"/><use href="#dia" x="1190" y="2221"/><use href="#dia" x="1265" y="2228"/><use href="#dia" x="1340" y="2210"/>
<g font-size="20" text-anchor="middle"><text x="1041" y="2273">*</text><text x="1116" y="2221">*</text></g>
<g stroke-width="3"><path d="M1392,2236H1412" stroke="#000"/><path d="M1392,2259H1412" stroke="#7b2cf5"/><path d="M1392,2281H1412" stroke="#ffff00"/><path d="M1392,2304H1412" stroke="#3ce63c"/></g>
<use href="#dia" x="1402" y="2236"/><use href="#sq" x="1402" y="2259"/><use href="#tri" x="1402" y="2281"/><use href="#cir" x="1402" y="2304"/>
<g font-size="18.5"><text x="1418" y="2242">Negative</text><text x="1418" y="2265">Neutral</text><text x="1418" y="2287">Positive</text><text x="1418" y="2310">Scrambled</text></g>

<g font-size="20" fill="#000">
<text x="1531" y="2102" font-weight="bold" fill="#1c1ca0">Significant Effects</text>
<text x="1531" y="2135" font-weight="bold">11-12</text>
<text x="1531" y="2161">*Scramble &gt; Negative</text>
<text x="1531" y="2209" font-weight="bold">13-14</text>
<text x="1531" y="2233">*Positive &gt; Negative</text>
<text x="1531" y="2257">**Scramble &gt; Negative</text>
<text x="1531" y="2281">*Scramble &gt; Positive</text>
</g>
<rect x="1578" y="2363" width="130" height="72" fill="#fff" stroke="#000" stroke-width="3"/>
<g font-size="22" font-weight="bold" text-anchor="middle"><text x="1643" y="2397">• p &lt; .05</text><text x="1643" y="2426">** p &lt; .001</text></g>

<!-- ========== MALE RT ========== -->
<rect x="1770" y="2082" width="600" height="375" fill="#fff" stroke="#000" stroke-width="3"/>
<text x="2070" y="2120" font-size="27" font-weight="bold" fill="#1c1ca0" text-anchor="middle">Male</text>
<rect x="1854" y="2159" width="375" height="219" fill="#c0c0c0"/>
<path d="M1854,2159H2229M1854,2190H2229M1854,2222H2229M1854,2253H2229M1854,2284H2229M1854,2315H2229M1854,2347H2229" stroke="#808080" stroke-width="1.5" fill="none"/>
<path d="M1854,2159V2378H2229M1848,2159H1854M1848,2190H1854M1848,2222H1854M1848,2253H1854M1848,2284H1854M1848,2315H1854M1848,2347H1854M1848,2378H1854M1854,2378v7M1929,2378v7M2004,2378v7M2079,2378v7M2154,2378v7M2229,2378v7" stroke="#888" stroke-width="1.5" fill="none"/>
<g font-size="18" text-anchor="end">
<text x="1841" y="2165">470</text><text x="1841" y="2196">450</text><text x="1841" y="2228">430</text><text x="1841" y="2259">410</text><text x="1841" y="2290">390</text><text x="1841" y="2321">370</text><text x="1841" y="2353">350</text><text x="1841" y="2384">330</text>
</g>
<g font-size="18" text-anchor="middle">
<text x="1891" y="2408">11-12</text><text x="1966" y="2408">13-14</text><text x="2041" y="2408">15-16</text><text x="2116" y="2408">18-19</text><text x="2191" y="2408">20-25</text>
</g>
<text x="2041" y="2438" font-size="22" font-weight="bold" text-anchor="middle">Age Group</text>
<text transform="translate(1803,2268) rotate(-90)" font-size="20" font-weight="bold" text-anchor="middle" textLength="203" lengthAdjust="spacingAndGlyphs">Reaction Time (msec)</text>
<path d="M1891,2222V2284M1887,2222H1895M1887,2284H1895M1891,2255V2291M1891,2258V2294M1887,2294H1895M1891,2270V2310M1887,2310H1895
M1966,2271V2301M1962,2271H1970M1962,2301H1970M1966,2295V2323M1966,2290V2319M1966,2305V2335M1962,2335H1970
M2041,2296V2319M2037,2296H2045M2037,2319H2045M2041,2325V2354M2037,2354H2045
M2116,2299V2341M2112,2299H2120M2112,2341H2120M2116,2322V2357M2112,2357H2120
M2191,2304V2333M2187,2304H2195M2187,2333H2195M2191,2323V2356M2187,2356H2195" stroke="#000" stroke-width="1.3" fill="none"/>
<g fill="none" stroke-width="3.5" stroke-linejoin="round">
<polyline points="1891,2276 1966,2305 2041,2333 2116,2341 2191,2341" stroke="#ffff00"/>
<polyline points="1891,2290 1966,2320 2041,2344 2116,2344 2191,2344" stroke="#3ce63c"/>
<polyline points="1891,2273 1966,2309 2041,2336 2116,2336 2191,2336" stroke="#7b2cf5"/>
<polyline points="1891,2253 1966,2286 2041,2308 2116,2320 2191,2319" stroke="#000" stroke-width="3"/>
</g>
<use href="#tri" x="1891" y="2276"/><use href="#tri" x="1966" y="2305"/><use href="#tri" x="2041" y="2333"/><use href="#tri" x="2116" y="2341"/><use href="#tri" x="2191" y="2341"/>
<use href="#cir" x="1891" y="2290"/><use href="#cir" x="1966" y="2320"/><use href="#cir" x="2041" y="2344"/><use href="#cir" x="2116" y="2344"/><use href="#cir" x="2191" y="2344"/>
<use href="#sq" x="1891" y="2273"/><use href="#sq" x="1966" y="2309"/><use href="#sq" x="2041" y="2336"/><use href="#sq" x="2116" y="2336"/><use href="#sq" x="2191" y="2336"/>
<use href="#dia" x="1891" y="2253"/><use href="#dia" x="1966" y="2286"/><use href="#dia" x="2041" y="2308"/><use href="#dia" x="2116" y="2320"/><use href="#dia" x="2191" y="2319"/>
<g font-size="20" text-anchor="middle"><text x="1966" y="2250">**</text><text x="2041" y="2278">**</text><text x="2116" y="2284">*</text><text x="2191" y="2284">*</text></g>
<g stroke-width="3"><path d="M2243,2236H2263" stroke="#000"/><path d="M2243,2259H2263" stroke="#7b2cf5"/><path d="M2243,2281H2263" stroke="#ffff00"/><path d="M2243,2304H2263" stroke="#3ce63c"/></g>
<use href="#dia" x="2253" y="2236"/><use href="#sq" x="2253" y="2259"/><use href="#tri" x="2253" y="2281"/><use href="#cir" x="2253" y="2304"/>
<g font-size="18.5"><text x="2271" y="2242">Negative</text><text x="2271" y="2265">Neutral</text><text x="2271" y="2287">Positive</text><text x="2271" y="2310">Scrambled</text></g>

<g font-size="20" fill="#000">
<text x="2389" y="2102" font-weight="bold" fill="#1c1ca0">Significant Effects</text>
<text x="2389" y="2135" font-weight="bold">13-14</text>
<text x="2389" y="2161">*ALL &lt; Negative</text>
<text x="2389" y="2184">*Positive &lt; Scramble</text>
<text x="2389" y="2232" font-weight="bold">15-16</text>
<text x="2389" y="2257">**ALL &lt; Negative</text>
<text x="2389" y="2281">*Scramble &lt; Positive</text>
<text x="2389" y="2329" font-weight="bold">18-19</text>
<text x="2389" y="2353">*Scramble &lt; Negative</text>
<text x="2389" y="2400" font-weight="bold">20-25</text>
<text x="2389" y="2424">*ALL &lt; Negative</text>
</g>

<!-- RIGHT PANEL -->
<g font-weight="bold" font-size="75">
<text x="2853" y="585" fill="#fff" stroke="#fff" stroke-width="2" textLength="369" lengthAdjust="spacingAndGlyphs">Summary</text>
<text x="2850" y="582" fill="#000" stroke="#000" stroke-width="2.5" textLength="369" lengthAdjust="spacingAndGlyphs">Summary</text>
<text x="2823" y="1453" fill="#fff" stroke="#fff" stroke-width="2" textLength="440" lengthAdjust="spacingAndGlyphs">Conclusion</text>
<text x="2820" y="1450" fill="#000" stroke="#000" stroke-width="2.5" textLength="440" lengthAdjust="spacingAndGlyphs">Conclusion</text>
</g>
<g font-weight="bold" font-size="80">
<text x="2690" y="2055" fill="#fff" textLength="703" lengthAdjust="spacingAndGlyphs">Acknowledgments</text>
<text x="2687" y="2052" fill="#000" stroke="#000" stroke-width="0.8" textLength="703" lengthAdjust="spacingAndGlyphs">Acknowledgments</text>
</g>

<g font-size="28" fill="#000">
<text x="2676" y="644">•</text>
<text x="2709" y="644">Overall accuracy on inhibitory trials improved</text>
<text x="2709" y="678">significantly with age for both genders between 11 and</text>
<text x="2709" y="711">25 years (p&lt;.001).</text>
<text x="2676" y="778">•</text>
<text x="2709" y="778">At age 13-14 years, both females and males showed</text>
<text x="2709" y="812">significantly lower NoGo accuracy on negative versus</text>
<text x="2709" y="846">other trial types (p&lt;.001 and p&lt;.01, respectively).</text>
<text x="2676" y="913">•</text>
<text x="2709" y="913">At age 15-16 there was a significant interaction</text>
<text x="2709" y="946">between gender and trial type for accuracy measures</text>
<text x="2709" y="980">(p&lt;.01).  Females at this age continued to show</text>
<text x="2709" y="1014">significantly lower accuracy on negative versus other</text>
<text x="2709" y="1047">trial types while males did not show this effect.</text>
<text x="2676" y="1114">•</text>
<text x="2709" y="1114">In all but the youngest age groups, reaction times on</text>
<text x="2709" y="1148">Go trials were slower for negative trials relative to other</text>
<text x="2709" y="1182">trial types.  This was true for both males and females.</text>
<text x="2676" y="1249">•</text>
<text x="2709" y="1249">There were no significant effects of age on reaction</text>
<text x="2709" y="1282">time.</text>
</g>

<g font-size="28" fill="#000">
<text x="2702" y="1542">These data suggest that inhibitory control may be</text>
<text x="2702" y="1576">more readily disrupted by negative emotional</text>
<text x="2702" y="1609">information around the age of puberty (13-14 years)</text>
<text x="2702" y="1643">for individuals of both genders, but that females are</text>
<text x="2702" y="1676">more affected than males.  Furthermore, females</text>
<text x="2702" y="1710">continue to show this effect into mid-adolescence (15-</text>
<text x="2702" y="1744">16 years) whereas males in this age group show</text>
<text x="2702" y="1777">performance similar to that of adults. Negative images</text>
<text x="2702" y="1811">continue to produce slowed responding on Go trials</text>
<text x="2702" y="1844">into early adulthood, but accuracy on inhibitory trials is</text>
<text x="2702" y="1878">no longer significantly affected by the negative</text>
<text x="2702" y="1912">background images in the older age groups.</text>
</g>

<g font-size="24" fill="#000">
<text x="2701" y="2122">We thank the Center for Neurobehavioral Development and the</text>
<text x="2701" y="2151">Center for Cognitive Science at the University of Minnesota for</text>
<text x="2701" y="2179">financial support. We thank all members of the Cognitive</text>
<text x="2701" y="2208">Developmental Neuroimaging Lab for intellectual and moral</text>
<text x="2701" y="2237">support.  Particular thanks go to Christina Shoaf, Dan Rinker,</text>
<text x="2701" y="2265">Amy Chmielewski and Amanda Hodel for their help with data</text>
<text x="2701" y="2294">collection and processing.</text>
</g>

<!-- CCS logo -->
<rect x="2790" y="2353" width="486" height="35" fill="url(#gCcs)"/>
<rect x="2790" y="2379" width="440" height="1.5" fill="#8a1a1a"/>
<circle cx="3252" cy="2370" r="22" fill="#2a2a6a"/>
<circle cx="3262" cy="2364" r="12" fill="#9a9ad0"/>
<text x="2797" y="2382" font-size="27" font-weight="bold" fill="#f4f4f4" textLength="420" lengthAdjust="spacingAndGlyphs">Center for Cognitive Sciences...</text>
<text x="3243" y="2386" font-size="9" fill="#fff">CCS</text>

<!-- CNBD logo -->
<rect x="2892" y="2433" width="252" height="81" fill="#fff"/>
<rect x="2892" y="2433" width="40" height="40" fill="#a8282e"/>
<rect x="2932" y="2433" width="41" height="40" fill="#f8d848"/>
<rect x="2892" y="2473" width="40" height="41" fill="#2a7cc4"/>
<path d="M2894,2460 Q2905,2445 2915,2458 T2930,2448" stroke="#f0c0c0" stroke-width="1.5" fill="none"/>
<path d="M2936,2470 Q2950,2455 2968,2440" stroke="#fff" stroke-width="2" fill="none"/>
<ellipse cx="2913" cy="2496" rx="9" ry="10" fill="#fff"/>
<text x="2936" y="2491" class="serif" font-size="15" fill="#333" textLength="206" lengthAdjust="spacingAndGlyphs">Center for Neurobehavioral</text>
<text x="2936" y="2512" class="serif" font-size="22" fill="#b02030" textLength="206" lengthAdjust="spacingAndGlyphs">DEVELOPMENT</text>
</svg>
</body></html>
